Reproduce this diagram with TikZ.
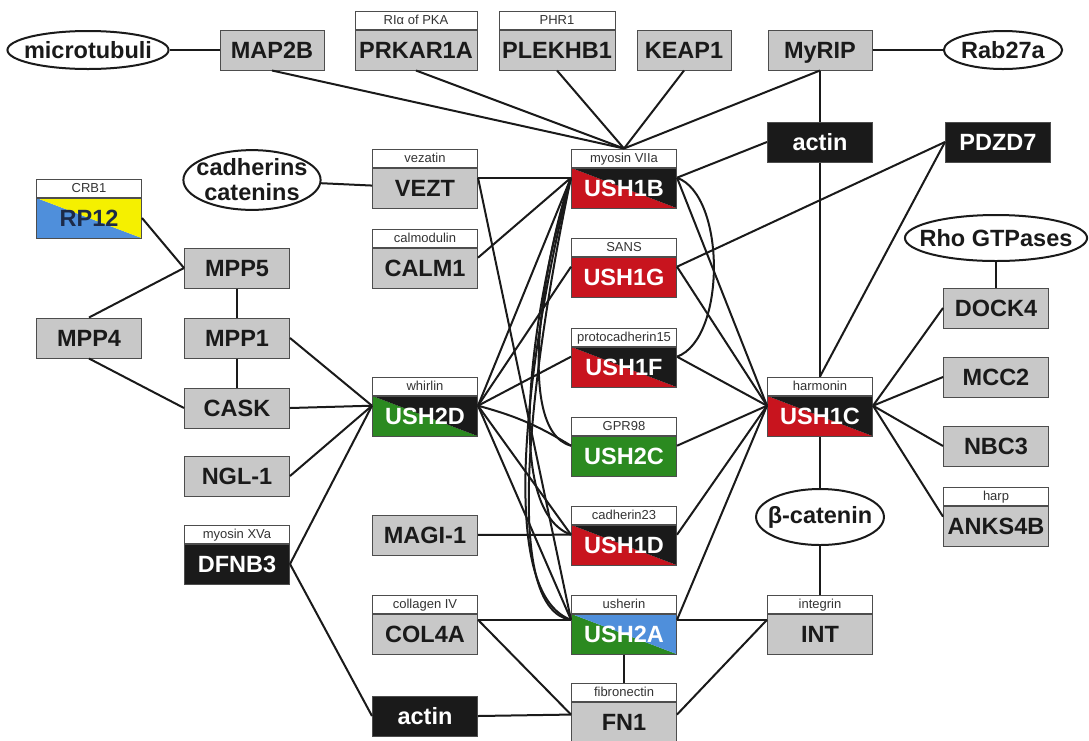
\documentclass[tikz,border=0pt]{standalone}
\usepackage{fontspec}
\setmainfont{Liberation Sans}
\usetikzlibrary{shapes.geometric,positioning}

\definecolor{boxgrey}{HTML}{C8C8C8}
\definecolor{boxedge}{HTML}{4D4D4D}
\definecolor{ushred}{HTML}{C8141E}
\definecolor{ushblack}{HTML}{1A1A1A}
\definecolor{ushgreen}{HTML}{2B8A20}
\definecolor{ushblue}{HTML}{4F8FDB}
\definecolor{ushyellow}{HTML}{F5F000}
\definecolor{tagtext}{HTML}{333333}
\definecolor{rptext}{HTML}{1C2A48}

\tikzset{
	prot/.style={draw=boxedge, line width=1pt, minimum width=105pt, minimum height=40pt,
		inner sep=0pt, text height=16.5pt, text depth=0pt, text=ushblack,
		font=\fontsize{23.5}{24}\selectfont\bfseries},
	greybox/.style={prot, fill=boxgrey},
	blackbox/.style={prot, fill=ushblack, text=white},
	onecol/.style={prot, fill=#1, text=white},
	split/.style 2 args={prot, text=white, path picture={
		\fill[#1] (path picture bounding box.north west) -- (path picture bounding box.south west)
			-- (path picture bounding box.south east) -- cycle;
		\fill[#2] (path picture bounding box.north west) -- (path picture bounding box.north east)
			-- (path picture bounding box.south east) -- cycle;}},
	tag/.style={draw=boxedge, line width=1pt, fill=white, minimum width=105pt, minimum height=18pt,
		inner sep=0pt, text height=9.5pt, text depth=0pt, text=tagtext,
		font=\fontsize{13}{14}\selectfont},
	blob/.style={ellipse, draw=ushblack, line width=2pt, fill=white, inner ysep=0pt,
		align=center, text=ushblack, font=\fontsize{23.5}{25}\selectfont\bfseries},
	link/.style={draw=ushblack, line width=2pt}
}

\begin{document}
\begin{tikzpicture}[x=1pt,y=-1pt]
	\useasboundingbox (0,0) rectangle (1089,740);
	\fill[white] (0,0) rectangle (1089,740);
	% Riga in alto
	\node[blob, inner xsep=-7pt, minimum height=38pt] (micro) at (88,50) {microtubuli};
	\node[greybox, minimum width=104pt] (map2b) at (272,50) {MAP2B};
	\node[greybox, minimum width=122pt] (prkar) at (416,50) {PRKAR1A};
	\node[tag, minimum width=122pt, above=0pt of prkar] (prkart) {RIα of PKA};
	\node[greybox, minimum width=116pt] (plek) at (557,50) {PLEKHB1};
	\node[tag, minimum width=116pt, above=0pt of plek] (plekt) {PHR1};
	\node[greybox, minimum width=94pt] (keap) at (684,50) {KEAP1};
	\node[greybox, minimum width=104pt] (myrip) at (820,50) {MyRIP};
	\node[blob, inner xsep=0pt, minimum height=38pt] (rab) at (1003,50) {Rab27a};

	% Sinistra
	\node[split={ushblue}{ushyellow}, text=rptext] (rp12) at (89,218) {RP12};
	\node[tag, above=0pt of rp12] (rp12t) {CRB1};
	\node[greybox] (mpp4) at (89,338) {MPP4};
	\node[greybox] (mpp5) at (237,268) {MPP5};
	\node[greybox] (mpp1) at (237,338) {MPP1};
	\node[greybox] (cask) at (237,408) {CASK};
	\node[greybox] (ngl) at (237,476) {NGL-1};
	\node[blackbox] (dfnb) at (237,564) {DFNB3};
	\node[tag, above=0pt of dfnb] (dfnbt) {myosin XVa};

	% Colonna centrale sinistra
	\node[blob, inner xsep=-7pt, minimum height=56pt] (cadcat) at (252,180) {cadherins\\catenins};
	\node[greybox] (vezt) at (425,188) {VEZT};
	\node[tag, above=0pt of vezt] (veztt) {vezatin};
	\node[greybox] (calm) at (425,268) {CALM1};
	\node[tag, above=0pt of calm] (calmt) {calmodulin};
	\node[split={ushgreen}{ushblack}] (ush2d) at (425,416) {USH2D};
	\node[tag, above=0pt of ush2d] (ush2dt) {whirlin};
	\node[greybox] (magi) at (425,535) {MAGI-1};
	\node[greybox] (col) at (425,634) {COL4A};
	\node[tag, above=0pt of col] (colt) {collagen IV};
	\node[blackbox] (actb) at (425,716) {actin};

	% Proteine di Usher
	\node[split={ushred}{ushblack}] (ush1b) at (624,188) {USH1B};
	\node[tag, above=0pt of ush1b] (ush1bt) {myosin VIIa};
	\node[onecol=ushred] (ush1g) at (624,277) {USH1G};
	\node[tag, above=0pt of ush1g] (ush1gt) {SANS};
	\node[split={ushred}{ushblack}] (ush1f) at (624,367) {USH1F};
	\node[tag, above=0pt of ush1f] (ush1ft) {protocadherin15};
	\node[onecol=ushgreen] (ush2c) at (624,456) {USH2C};
	\node[tag, above=0pt of ush2c] (ush2ct) {GPR98};
	\node[split={ushred}{ushblack}] (ush1d) at (624,545) {USH1D};
	\node[tag, above=0pt of ush1d] (ush1dt) {cadherin23};
	\node[split={ushgreen}{ushblue}] (ush2a) at (624,634) {USH2A};
	\node[tag, above=0pt of ush2a] (ush2at) {usherin};
	\node[greybox] (fn) at (624,722) {FN1};
	\node[tag, above=0pt of fn] (fnt) {fibronectin};

	% Colonna centrale destra
	\node[blackbox] (acta) at (820,142) {actin};
	\node[split={ushred}{ushblack}] (ush1c) at (820,416) {USH1C};
	\node[tag, above=0pt of ush1c] (ush1ct) {harmonin};
	\node[blob, inner xsep=-7pt, minimum height=56pt] (bcat) at (820,517) {β-catenin};
	\node[greybox] (int) at (820,634) {INT};
	\node[tag, above=0pt of int] (intt) {integrin};

	% Destra
	\node[blackbox] (pdz) at (998,142) {PDZD7};
	\node[blob, inner xsep=-12pt, minimum height=46pt] (rho) at (996,238) {Rho GTPases};
	\node[greybox] (dock) at (996,308) {DOCK4};
	\node[greybox] (mcc) at (996,377) {MCC2};
	\node[greybox] (nbc) at (996,446) {NBC3};
	\node[greybox] (anks) at (996,526) {ANKS4B};
	\node[tag, above=0pt of anks] (ankst) {harp};

	% Collegamenti in alto
	\draw[link] (micro) -- (map2b);
	\draw[link] (myrip) -- (rab);
	\draw[link] (map2b.south) -- (ush1bt.north);
	\draw[link] (prkar.south) -- (ush1bt.north);
	\draw[link] (plek.south) -- (ush1bt.north);
	\draw[link] (keap.south) -- (ush1bt.north);
	\draw[link] (myrip.south) -- (ush1bt.north);
	\draw[link] (myrip.south) -- (acta.north);
	\draw[link] (acta.south) -- (ush1ct.north);
	\draw[link] (acta.west) -- (ush1b.11);
	\draw[link] (pdz.west) -- (ush1g.11);
	\draw[link] (pdz.west) -- (ush1ct.north);

	% Collegamenti a sinistra
	\draw[link] (cadcat) -- (vezt);
	\draw[link] (vezt.11) -- (ush1b.169);
	\draw[link] (vezt.11) -- (ush2a.165);
	\draw[link] (calm.11) -- (ush1b.169);
	\draw[link] (rp12.east) -- (mpp5.west);
	\draw[link] (mpp4.north) -- (mpp5.west);
	\draw[link] (mpp4.south) -- (cask.west);
	\draw[link] (mpp5) -- (mpp1);
	\draw[link] (mpp1) -- (cask);
	\draw[link] (mpp1.east) -- (ush2d.169);
	\draw[link] (cask.east) -- (ush2d.169);
	\draw[link] (ngl.east) -- (ush2d.169);
	\draw[link] (dfnb.east) -- (ush2d.169);
	\draw[link] (dfnb.east) -- (actb.west);

	% Whirlin
	\draw[link] (ush2d.11) -- (ush1b.169);
	\draw[link] (ush2d.11) -- (ush1g.169);
	\draw[link] (ush2d.11) -- (ush1f.169);
	\draw[link] (ush2d.11) to[bend left=8] (ush2c.169);
	\draw[link] (ush2d.11) -- (ush1d.169);
	\draw[link] (ush2d.11) -- (ush2a.165);
	\draw[link] (magi) -- (ush1d.169);

	% Curve della miosina
	\draw[link] (ush1b.169) to[out=250,in=165,looseness=0.6] (ush2c.169);
	\draw[link] (ush1b.169) to[out=252,in=160,looseness=0.6] (ush1d.169);
	\draw[link] (ush1b.169) to[out=255,in=160,looseness=0.55] (ush2a.165);
	\draw[link] (ush1b.169) to[out=258,in=172,looseness=0.5] (ush2a.165);
	\draw[link] (ush1b.11) to[out=-20,in=20,looseness=0.75] (ush1f.11);

	% Harmonin
	\draw[link] (ush1b.11) -- (ush1c.169);
	\draw[link] (ush1g.11) -- (ush1c.169);
	\draw[link] (ush1f.11) -- (ush1c.169);
	\draw[link] (ush2c.11) -- (ush1c.169);
	\draw[link] (ush1d.11) -- (ush1c.169);
	\draw[link] (ush2a.15) -- (ush1c.169);
	\draw[link] (ush1c.11) -- (dock.west);
	\draw[link] (ush1c.11) -- (mcc.west);
	\draw[link] (ush1c.11) -- (nbc.west);
	\draw[link] (ush1c.11) -- (anks.170);
	\draw[link] (rho) -- (dock);
	\draw[link] (ush1c) -- (bcat);
	\draw[link] (bcat) -- (intt);

	% In basso
	\draw[link] (col.15) -- (ush2a.165);
	\draw[link] (col.15) -- (fn.172);
	\draw[link] (actb.east) -- (fn.172);
	\draw[link] (ush2a) -- (fnt);
	\draw[link] (ush2a.15) -- (int.165);
	\draw[link] (fn.8) -- (int.165);
\end{tikzpicture}
\end{document}
